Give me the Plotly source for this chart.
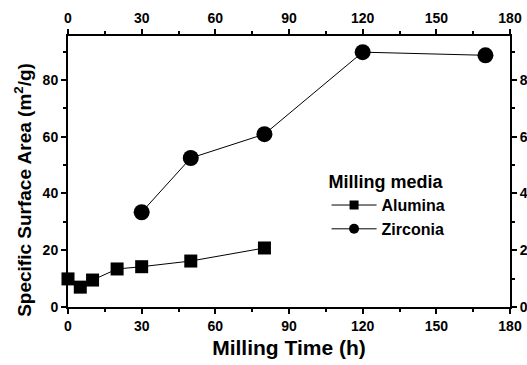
import plotly.graph_objects as go

alumina_time = [0, 5, 10, 20, 30, 50, 80]
alumina_area = [9.9, 7.0, 9.5, 13.4, 14.2, 16.2, 20.8]
zirconia_time = [30, 50, 80, 120, 170]
zirconia_area = [33.4, 52.5, 60.9, 89.8, 88.7]

x_ticks = [0, 30, 60, 90, 120, 150, 180]
y_ticks = [0, 20, 40, 60, 80]

FONT = "Liberation Sans, Arial, sans-serif"
tickfont = dict(family=FONT, size=14, color="black", weight="bold")

fig = go.Figure()
fig.add_trace(go.Scatter(x=alumina_time, y=alumina_area, mode="lines+markers",
                         line=dict(color="black", width=1),
                         marker=dict(symbol="square", size=13, color="black"),
                         showlegend=False, cliponaxis=False))
fig.add_trace(go.Scatter(x=zirconia_time, y=zirconia_area, mode="lines+markers",
                         line=dict(color="black", width=1),
                         marker=dict(symbol="circle", size=16, color="black"),
                         showlegend=False, cliponaxis=False))
# legend entries
fig.add_trace(go.Scatter(x=[None], y=[None], mode="lines+markers", name="Alumina",
                         line=dict(color="black", width=1),
                         marker=dict(symbol="square", size=9, color="black")))
fig.add_trace(go.Scatter(x=[None], y=[None], mode="lines+markers", name="Zirconia",
                         line=dict(color="black", width=1),
                         marker=dict(symbol="circle", size=10, color="black")))
# invisible trace to set up top and right axes
fig.add_trace(go.Scatter(x=[None], y=[None], xaxis="x2", yaxis="y2", showlegend=False))

axis_common = dict(showline=True, linecolor="black", linewidth=2, ticks="outside",
                   ticklen=5, tickwidth=1.5, tickcolor="black", showgrid=False,
                   zeroline=False, tickfont=tickfont, automargin=False)

fig.update_layout(
    width=527, height=365,
    margin=dict(l=68, r=17, t=36, b=58),
    paper_bgcolor="white", plot_bgcolor="white",
    xaxis=dict(range=[0, 180], tickvals=x_ticks, ticktext=[str(v) for v in x_ticks],
               minor=dict(dtick=15, ticklen=3, tickcolor="black", ticks="outside"),
               title=dict(text="Milling Time (h)", standoff=8,
                          font=dict(family=FONT, size=21, color="black", weight="bold")),
               **axis_common),
    xaxis2=dict(range=[0, 180], tickvals=x_ticks, ticktext=[str(v) for v in x_ticks],
                overlaying="x", side="top", anchor="y",
                minor=dict(dtick=15, ticklen=3, tickcolor="black", ticks="outside"),
                **axis_common),
    yaxis=dict(range=[0, 95.5], tickvals=y_ticks, ticktext=[str(v) for v in y_ticks],
               minor=dict(dtick=10, ticklen=3, tickcolor="black", ticks="outside"),
               **axis_common),
    yaxis2=dict(range=[0, 95.5], tickvals=y_ticks, ticktext=[str(v) for v in y_ticks],
                overlaying="y", side="right", anchor="x",
                minor=dict(dtick=10, ticklen=3, tickcolor="black", ticks="outside"),
                **axis_common),
    legend=dict(x=0.585, y=0.525, xanchor="left", yanchor="top",
                bgcolor="rgba(0,0,0,0)",
                title=dict(text="Milling media",
                           font=dict(family=FONT, size=18, color="black", weight="bold")),
                font=dict(family=FONT, size=16, color="black", weight="bold"),
                itemwidth=45, tracegroupgap=0),
    annotations=[dict(text="Specific Surface Area (m<sup>2</sup>/g)", textangle=-90,
                      xref="paper", yref="paper", x=-0.102, y=0.432,
                      xanchor="center", yanchor="middle", showarrow=False,
                      font=dict(family=FONT, size=19, color="black", weight="bold"))],
)

fig.write_html("out.html")
